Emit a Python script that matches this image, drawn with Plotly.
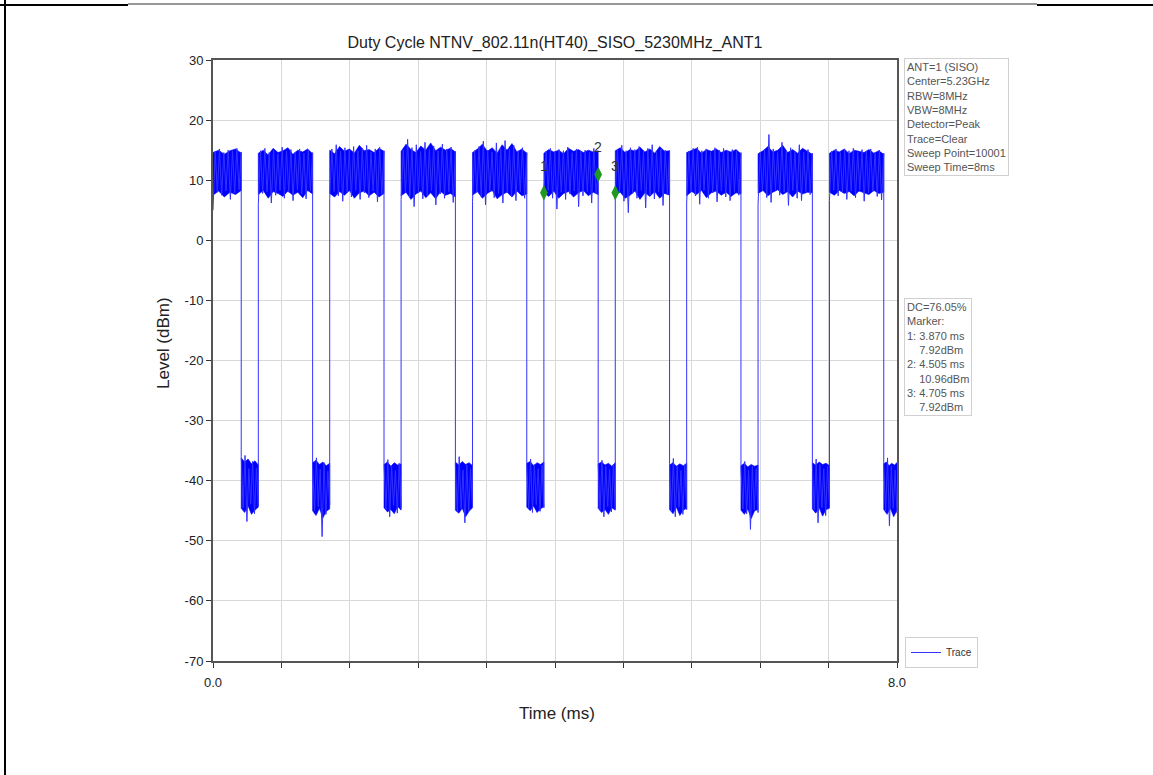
import numpy as np
import plotly.graph_objects as go

# ---------------- data ----------------
# burst (Tx on) segments, ms
high_starts = [0.000, 0.530, 1.365, 2.200, 3.035, 3.870, 4.705, 5.540, 6.375, 7.210]
high_ends   = [0.330, 1.165, 2.000, 2.835, 3.670, 4.505, 5.340, 6.175, 7.010, 7.845]
# gap (Tx off) segments, ms
low_starts  = [0.330, 1.165, 2.000, 2.835, 3.670, 4.505, 5.340, 6.175, 7.010, 7.845]
low_ends    = [0.530, 1.365, 2.200, 3.035, 3.870, 4.705, 5.540, 6.375, 7.210, 8.000]

# upper / lower edge of the dense part of each burst (dBm)
high_top_edge = [
    [14.6, 15.0, 14.3, 14.9, 15.2, 14.5],
    [14.5, 15.0, 14.2, 15.3, 14.6, 14.9, 15.4, 14.3, 15.0, 14.7, 15.2, 14.4],
    [15.0, 14.4, 15.6, 14.8, 15.2, 14.5, 15.8, 14.9, 15.1, 14.6, 15.3, 14.8],
    [14.8, 16.0, 15.1, 14.6, 15.7, 15.0, 16.2, 14.9, 15.5, 15.0, 15.3, 14.7],
    [14.6, 15.2, 16.0, 14.8, 15.4, 14.5, 15.9, 15.0, 16.1, 14.7, 15.2, 14.5],
    [14.5, 15.1, 14.7, 15.0, 14.4, 15.3, 14.8, 15.1, 14.6, 15.0, 14.7, 14.9],
    [14.9, 15.4, 14.6, 15.1, 14.8, 15.5, 14.7, 15.2, 14.5, 15.6, 14.8, 14.9],
    [14.6, 15.0, 15.3, 14.5, 15.1, 14.8, 15.2, 14.6, 15.0, 14.7, 15.1, 14.4],
    [14.4, 14.9, 15.6, 14.7, 15.0, 15.8, 14.6, 15.1, 14.5, 15.3, 14.8, 14.3],
    [14.5, 15.0, 14.7, 15.2, 14.4, 15.0, 14.8, 14.6, 15.1, 14.5, 14.9, 14.3],
]
high_bottom_edge = [
    [7.5, 8.2, 7.2, 8.0, 7.6, 8.3],
    [7.6, 8.3, 7.0, 8.1, 7.8, 7.3, 8.2, 7.5, 8.0, 7.1, 8.3, 7.7],
    [7.8, 7.2, 8.1, 7.5, 8.3, 7.0, 7.9, 8.2, 7.4, 8.0, 7.2, 7.8],
    [7.4, 8.0, 6.8, 7.7, 8.2, 7.1, 7.9, 6.9, 8.1, 7.5, 7.8, 7.2],
    [7.5, 8.1, 7.0, 7.8, 8.3, 6.9, 7.6, 8.0, 7.2, 8.2, 7.4, 7.7],
    [7.9, 7.3, 8.2, 7.0, 7.8, 8.1, 7.2, 7.9, 8.3, 7.4, 8.0, 7.6],
    [7.6, 8.0, 7.0, 7.5, 8.2, 6.8, 7.9, 7.3, 8.1, 7.0, 7.8, 7.5],
    [7.4, 8.1, 7.6, 8.3, 7.1, 7.9, 8.2, 7.5, 8.0, 7.3, 7.9, 7.7],
    [7.8, 8.3, 7.4, 8.0, 8.4, 7.6, 8.1, 7.2, 8.2, 7.7, 8.0, 7.9],
    [8.0, 7.5, 8.3, 7.8, 8.1, 7.4, 8.2, 7.9, 7.6, 8.3, 7.8, 8.0],
]
low_top_edge = [
    [-36.2, -36.9, -36.4, -37.2, -36.7, -37.4],
    [-37.0, -36.6, -37.3, -36.9, -37.5, -37.1],
    [-37.3, -36.9, -37.6, -37.0, -37.4, -37.2],
    [-36.9, -37.4, -36.8, -37.3, -37.0, -37.5],
    [-37.1, -36.8, -37.5, -37.0, -37.3, -36.9],
    [-37.2, -36.9, -37.4, -37.1, -37.6, -37.0],
    [-37.4, -37.0, -37.6, -37.2, -37.5, -37.1],
    [-37.5, -37.1, -37.7, -37.3, -37.6, -37.4],
    [-37.0, -37.4, -36.9, -37.3, -37.1, -37.5],
    [-37.2, -36.9, -37.5, -37.1, -37.4, -37.0],
]
low_bottom_edge = [
    [-44.6, -45.3, -44.2, -45.6, -44.9, -44.4],
    [-45.0, -45.8, -44.6, -46.2, -45.1, -44.7],
    [-44.5, -45.2, -44.8, -45.5, -44.3, -44.9],
    [-44.9, -45.4, -44.6, -46.0, -45.1, -44.5],
    [-44.4, -45.0, -44.2, -45.3, -44.7, -44.3],
    [-44.6, -45.3, -44.8, -45.6, -44.5, -44.9],
    [-44.8, -45.5, -44.4, -45.8, -44.9, -44.6],
    [-44.9, -45.6, -44.7, -46.3, -45.0, -44.8],
    [-44.7, -45.4, -44.5, -45.9, -44.8, -44.6],
    [-44.8, -45.6, -44.6, -46.0, -44.9],
]

# peaks / troughs of the trace inside each burst (dBm)
high_samples = [
    [5.0, 14.8, 8.0, 15.2, 7.5, 14.6, 8.2, 15.0, 6.8, 14.9, 7.9, 15.3, 8.4, 14.7],
    [6.0, 14.9, 7.8, 15.3, 8.1, 14.6, 6.2, 15.0, 7.5, 14.4, 8.3, 15.5, 7.0, 14.8, 8.0, 15.1, 6.6, 14.7, 8.4, 15.2, 7.7, 14.5, 6.9, 15.0, 8.2, 14.6],
    [7.0, 15.2, 8.1, 15.9, 7.4, 14.8, 6.5, 15.4, 8.0, 15.0, 7.2, 15.6, 8.3, 14.9, 6.8, 15.3, 7.9, 15.8, 7.1, 14.7, 8.2, 15.2, 6.4, 15.5, 7.6, 14.9],
    [6.8, 15.0, 7.9, 16.8, 7.2, 15.4, 5.6, 15.9, 8.0, 14.8, 6.9, 16.3, 7.5, 15.1, 8.2, 15.7, 5.9, 14.9, 7.7, 16.0, 7.0, 15.2, 8.1, 15.5, 6.3, 14.8],
    [6.5, 14.9, 8.0, 15.6, 7.3, 16.5, 5.9, 15.0, 8.2, 14.7, 7.1, 16.2, 7.8, 15.3, 6.2, 16.6, 8.0, 15.1, 7.4, 15.8, 6.6, 14.9, 8.1, 15.4, 7.0, 14.6],
    [7.92, 14.8, 8.3, 15.3, 7.0, 14.7, 5.2, 15.1, 8.0, 14.9, 6.8, 15.5, 7.7, 14.6, 8.2, 15.2, 5.6, 14.8, 7.4, 15.0, 8.1, 14.7, 6.2, 15.3, 7.9, 10.96],
    [7.92, 15.0, 8.0, 15.8, 6.5, 14.9, 4.6, 15.4, 7.8, 15.1, 7.0, 15.6, 8.3, 14.8, 5.4, 15.3, 7.5, 15.9, 6.9, 14.7, 8.1, 15.2, 5.8, 15.0, 7.6, 14.9],
    [6.2, 14.8, 8.1, 15.3, 7.4, 15.5, 6.0, 14.9, 8.3, 15.2, 7.0, 14.7, 7.9, 15.4, 6.4, 15.0, 8.2, 15.3, 7.2, 14.8, 6.6, 15.1, 8.0, 14.9, 7.5, 14.6],
    [6.0, 14.7, 8.2, 15.0, 7.1, 17.6, 6.3, 15.2, 8.4, 14.6, 7.5, 16.3, 8.0, 14.9, 5.8, 15.4, 8.3, 14.8, 7.0, 15.9, 6.6, 14.7, 8.1, 15.1, 7.6, 14.5],
    [6.6, 14.8, 8.3, 15.2, 7.4, 14.6, 8.0, 15.0, 6.8, 14.9, 8.2, 15.3, 7.1, 14.7, 8.4, 15.1, 6.5, 14.8, 7.9, 15.2, 8.1, 14.6, 7.3, 15.0, 6.7, 14.5],
]
low_samples = [
    [-36.0, -44.5, -35.8, -46.8, -38.0, -43.9, -36.8, -45.5, -37.9, -44.2],
    [-37.6, -45.0, -36.2, -44.3, -38.1, -49.3, -37.0, -45.6, -38.4, -44.0],
    [-37.2, -44.8, -36.5, -46.0, -37.5, -44.1, -38.3, -45.4, -37.1, -44.6],
    [-37.5, -45.2, -36.0, -44.6, -38.2, -47.0, -37.4, -45.1, -38.0, -44.3],
    [-37.6, -44.6, -36.4, -45.3, -37.3, -44.0, -38.0, -45.1, -37.4, -44.5],
    [-37.5, -44.9, -36.6, -46.0, -37.6, -44.3, -38.1, -45.2, -37.3, -44.7],
    [-37.2, -45.1, -36.3, -46.0, -37.5, -44.4, -38.3, -45.6, -37.4, -44.8],
    [-38.0, -44.7, -36.8, -45.5, -38.2, -48.1, -37.6, -44.9, -38.0, -45.3],
    [-37.5, -44.8, -36.4, -47.0, -37.3, -44.5, -38.0, -45.8, -37.6, -44.2],
    [-37.4, -45.0, -36.2, -47.5, -37.6, -44.6, -38.2, -45.4],
]

# markers
marker_labels = ["1", "2", "3"]
marker_times  = [3.870, 4.505, 4.705]
marker_levels = [7.92, 10.96, 7.92]

# axis ticks
x_tickvals = [0.0, 0.8, 1.6, 2.4, 3.2, 4.0, 4.8, 5.6, 6.4, 7.2, 8.0]
x_ticktext = ["0.0", "", "", "", "", "", "", "", "", "", "8.0"]
y_tickvals = [-70, -60, -50, -40, -30, -20, -10, 0, 10, 20, 30]
y_ticktext = ["-70", "-60", "-50", "-40", "-30", "-20", "-10", "0", "10", "20", "30"]

title_text = "Duty Cycle NTNV_802.11n(HT40)_SISO_5230MHz_ANT1"
x_title = "Time (ms)"
y_title = "Level (dBm)"
info_lines = ["ANT=1 (SISO)", "Center=5.23GHz", "RBW=8MHz", "VBW=8MHz",
              "Detector=Peak", "Trace=Clear", "Sweep Point=10001", "Sweep Time=8ms"]
result_lines = ["DC=76.05%", "Marker:", "1: 3.870 ms", "\u00a0\u00a0\u00a0\u00a07.92dBm",
                "2: 4.505 ms", "\u00a0\u00a0\u00a0\u00a010.96dBm", "3: 4.705 ms",
                "\u00a0\u00a0\u00a0\u00a07.92dBm"]

# ---------------- build trace geometry ----------------
tx, ty = [], []
for i in range(len(high_starts)):
    hs = high_samples[i]
    tx += list(np.linspace(high_starts[i], high_ends[i], len(hs)))
    ty += hs
    ls = low_samples[i]
    tx += list(np.linspace(low_starts[i], low_ends[i], len(ls)))
    ty += ls

cx, cy = [], []
for starts, ends, tops, bots in ((high_starts, high_ends, high_top_edge, high_bottom_edge),
                                 (low_starts, low_ends, low_top_edge, low_bottom_edge)):
    for s, e, t, b in zip(starts, ends, tops, bots):
        xt = list(np.linspace(s, e, len(t)))
        xb = list(np.linspace(s, e, len(b)))
        cx += xt + xb[::-1] + [xt[0], None]
        cy += list(t) + list(b)[::-1] + [t[0], None]

BLUE = "#0000ff"
FONT = "Arial, Liberation Sans, sans-serif"

fig = go.Figure()
fig.add_trace(go.Scatter(x=cx, y=cy, mode="lines", fill="toself", fillcolor=BLUE,
                         line=dict(color=BLUE, width=0.6), showlegend=False,
                         hoverinfo="skip"))
fig.add_trace(go.Scatter(x=tx, y=ty, mode="lines", name="Trace",
                         line=dict(color="#3333ff", width=1)))
fig.add_trace(go.Scatter(x=marker_times, y=marker_levels, mode="markers",
                         marker=dict(color="#1f9a1f", symbol="diamond-tall", size=11),
                         showlegend=False))

# layout geometry (pixels)
W, H = 1153, 775
L, R, T, B = 213, 897, 60, 661


def px(xp):
    return (xp - L) / (R - L)


def py(yp):
    return (B - yp) / (B - T)


for lab, mt, ml in zip(marker_labels, marker_times, marker_levels):
    fig.add_annotation(x=mt, y=ml, text=lab, showarrow=False, yshift=27,
                       font=dict(family=FONT, size=14, color="#333333"))

fig.add_annotation(xref="paper", yref="paper", x=px(904), y=py(58), xanchor="left",
                   yanchor="top", align="left", showarrow=False,
                   text="<br>".join(info_lines), bgcolor="white",
                   bordercolor="#d0d0d0", borderwidth=1, borderpad=2,
                   font=dict(family=FONT, size=11, color="#555555"))
fig.add_annotation(xref="paper", yref="paper", x=px(904), y=py(298), xanchor="left",
                   yanchor="top", align="left", showarrow=False,
                   text="<br>".join(result_lines), bgcolor="white",
                   bordercolor="#d0d0d0", borderwidth=1, borderpad=2,
                   font=dict(family=FONT, size=11, color="#555555"))

# axis titles
fig.add_annotation(xref="paper", yref="paper", x=px(557), y=py(713), xanchor="center",
                   yanchor="middle", showarrow=False, text=x_title,
                   font=dict(family=FONT, size=17, color="#222222"))
fig.add_annotation(xref="paper", yref="paper", x=px(163), y=py(343), xanchor="center",
                   yanchor="middle", showarrow=False, text=y_title, textangle=-90,
                   font=dict(family=FONT, size=17, color="#222222"))

# page frame lines
line_kw = dict(type="line", xref="paper", yref="paper", layer="above")
fig.add_shape(x0=px(5), x1=px(5), y0=py(0), y1=py(775), line=dict(color="black", width=2), **line_kw)
fig.add_shape(x0=px(0), x1=px(128), y0=py(5), y1=py(5), line=dict(color="black", width=2), **line_kw)
fig.add_shape(x0=px(128), x1=px(1037), y0=py(4), y1=py(4), line=dict(color="#333333", width=1), **line_kw)
fig.add_shape(x0=px(1037), x1=px(1153), y0=py(5), y1=py(5), line=dict(color="black", width=2), **line_kw)

fig.update_layout(
    width=W, height=H, autosize=False,
    margin=dict(l=L, r=W - R, t=T, b=H - B, pad=0),
    paper_bgcolor="white", plot_bgcolor="white",
    font=dict(family=FONT, color="#222222"),
    title=dict(text=title_text, x=0.5, xref="paper", y=1 - 42 / H, yref="container",
               xanchor="center", yanchor="middle",
               font=dict(family=FONT, size=16, color="#222222")),
    legend=dict(x=px(905), y=py(637), xanchor="left", yanchor="top",
                bgcolor="white", bordercolor="#d0d0d0", borderwidth=1,
                font=dict(family=FONT, size=10, color="#333333")),
    showlegend=True,
)
fig.update_xaxes(range=[0, 8], tickvals=x_tickvals, ticktext=x_ticktext,
                 showgrid=True, gridcolor="#d8d8d8", gridwidth=1, zeroline=False,
                 ticks="outside", ticklen=5, tickcolor="#333333", tickwidth=1,
                 showline=True, linecolor="#555555", linewidth=2, mirror=True,
                 ticklabelstandoff=3,
                 tickfont=dict(family=FONT, size=13, color="#222222"))
fig.update_yaxes(range=[-70, 30], tickvals=y_tickvals, ticktext=y_ticktext,
                 showgrid=True, gridcolor="#d8d8d8", gridwidth=1, zeroline=False,
                 ticks="outside", ticklen=5, tickcolor="#333333", tickwidth=1,
                 showline=True, linecolor="#555555", linewidth=2, mirror=True,
                 tickfont=dict(family=FONT, size=13, color="#222222"))

fig.write_html("out.html", config={"displayModeBar": False},
               post_script="document.body.style.margin='0';")
